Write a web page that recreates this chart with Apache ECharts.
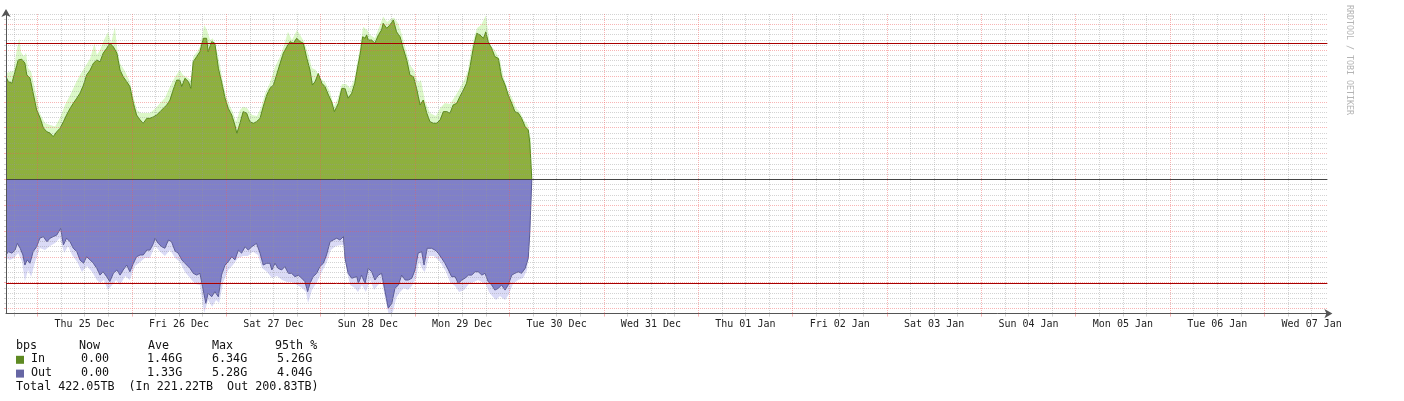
<!DOCTYPE html>
<html>
<head>
<meta charset="utf-8">
<title>port bits</title>
<script src="https://cdn.jsdelivr.net/npm/echarts@6/dist/echarts.min.js"></script>
<style>
  html, body { margin: 0; padding: 0; background: #fff; }
  #chart { width: 1404px; height: 401px; }
</style>
</head>
<body>
<div id="chart"></div>
<script>
// [hours since Wed 24 Dec 16:00, Gbit/s]
const inAvg = [
  [0, 3.97], [0.6, 3.78], [1.5, 3.72], [2.3, 4.17], [3.1, 4.62], [4.0, 4.65], [4.8, 4.50], [5.3, 4.04],
  [6.1, 3.92], [6.9, 3.34], [7.8, 2.68], [8.7, 2.37], [9.5, 1.99], [10.4, 1.84], [11.2, 1.79], [12.0, 1.65],
  [12.9, 1.84], [13.7, 1.97], [14.6, 2.23], [15.4, 2.49], [16.3, 2.75], [17.1, 2.94], [18.0, 3.14], [18.8, 3.33],
  [19.7, 3.65], [20.5, 4.04], [21.4, 4.23], [22.2, 4.49], [23.1, 4.62], [23.9, 4.55], [24.7, 4.88], [25.6, 5.07],
  [26.4, 5.27], [27.3, 5.13], [28.2, 4.88], [29.0, 4.23], [29.8, 3.97], [30.7, 3.78], [31.5, 3.59], [32.4, 2.94],
  [33.2, 2.49], [34.1, 2.30], [34.9, 2.17], [35.8, 2.36], [36.6, 2.36], [37.5, 2.42], [38.3, 2.49], [39.2, 2.62],
  [40.0, 2.75], [40.9, 2.88], [41.7, 3.07], [42.5, 3.46], [43.4, 3.84], [44.2, 3.84], [44.7, 3.59], [45.5, 3.91],
  [46.4, 3.78], [47.0, 3.52], [47.6, 4.55], [48.5, 4.75], [49.3, 4.94], [50.2, 5.46], [51.0, 5.46], [51.4, 4.94],
  [52.3, 5.33], [53.1, 5.27], [54.0, 4.30], [54.8, 3.78], [55.7, 3.14], [56.5, 2.75], [57.4, 2.49], [58.2, 2.10],
  [58.7, 1.78], [59.5, 2.17], [60.3, 2.62], [61.2, 2.56], [62.0, 2.23], [62.9, 2.17], [63.7, 2.23], [64.6, 2.36],
  [65.4, 2.81], [66.3, 3.26], [67.1, 3.52], [68.0, 3.65], [68.8, 4.04], [69.7, 4.49], [70.5, 4.88], [71.4, 5.13],
  [72.2, 5.33], [73.1, 5.27], [73.9, 5.46], [74.8, 5.33], [75.6, 5.27], [76.5, 4.68], [77.3, 4.23], [77.9, 3.65],
  [78.6, 3.78], [79.4, 4.10], [80.3, 3.72], [81.1, 3.59], [82.0, 3.26], [82.8, 3.00], [83.5, 2.62], [84.5, 2.94],
  [85.4, 3.52], [86.2, 3.52], [87.0, 3.14], [87.9, 3.33], [88.7, 3.72], [89.2, 4.17], [90.0, 4.81], [90.7, 5.52],
  [91.3, 5.46], [91.7, 5.59], [92.1, 5.39], [93.0, 5.39], [93.8, 5.27], [94.7, 5.59], [95.5, 5.78], [95.9, 6.04],
  [96.8, 5.85], [97.6, 5.97], [98.5, 6.17], [99.3, 5.71], [100.2, 5.52], [101.0, 5.07], [101.9, 4.62], [102.7, 4.04],
  [103.6, 3.97], [104.4, 3.52], [105.3, 2.88], [106.1, 3.07], [107.0, 2.56], [107.8, 2.23], [108.7, 2.17], [109.5, 2.17],
  [110.4, 2.30], [111.2, 2.62], [112.1, 2.62], [112.9, 2.56], [113.7, 2.88], [114.6, 2.94], [115.4, 3.20], [116.3, 3.46],
  [117.1, 3.72], [118.0, 4.36], [118.8, 5.07], [119.7, 5.65], [120.5, 5.59], [121.4, 5.46], [122.0, 5.71], [122.6, 5.33],
  [123.5, 5.07], [124.3, 4.75], [125.2, 4.68], [126.0, 3.97], [126.9, 3.65], [127.7, 3.26], [128.6, 2.94], [129.4, 2.62],
  [130.3, 2.56], [131.1, 2.36], [132.0, 2.04], [132.8, 1.91], [133.2, 1.40], [133.7, 0]
];
const inMax = [
  [0, 4.12], [1.9, 4.19], [2.8, 5.07], [3.4, 5.46], [3.8, 4.93], [4.6, 4.75], [5.1, 4.90], [5.6, 4.31],
  [6.4, 4.17], [7.4, 3.46], [8.6, 2.57], [9.9, 2.18], [11.2, 2.10], [12.5, 2.04], [13.7, 2.37], [15.0, 2.88],
  [16.3, 3.26], [17.5, 3.65], [18.8, 4.04], [20.1, 4.36], [21.4, 4.68], [22.5, 5.27], [23.1, 4.81], [23.9, 5.01],
  [24.9, 5.39], [26.0, 5.71], [26.7, 5.27], [27.7, 5.91], [28.2, 5.13], [29.0, 4.49], [30.3, 4.17], [31.5, 3.78],
  [32.3, 3.26], [33.3, 2.68], [34.3, 2.57], [35.6, 2.57], [36.6, 2.57], [38.1, 2.76], [39.2, 2.95], [40.4, 3.15],
  [41.7, 3.59], [43.0, 3.97], [44.2, 4.23], [45.0, 4.04], [46.3, 3.92], [47.0, 3.84], [47.6, 4.75], [48.6, 4.94],
  [49.3, 5.13], [50.4, 5.97], [51.1, 5.78], [51.9, 5.39], [52.6, 5.46], [53.7, 4.94], [54.4, 4.43], [55.2, 3.73],
  [55.9, 3.26], [57.0, 2.81], [57.7, 2.61], [58.5, 2.23], [59.5, 2.68], [60.3, 2.81], [61.3, 2.76], [62.6, 2.49],
  [63.8, 2.45], [64.8, 2.76], [65.9, 3.34], [67.1, 3.73], [68.4, 4.36], [69.7, 4.75], [70.7, 5.20], [71.7, 5.71],
  [72.7, 5.39], [74.0, 5.78], [74.8, 5.59], [75.8, 5.33], [76.8, 4.88], [77.8, 4.31], [78.8, 4.23], [79.8, 3.92],
  [81.1, 3.77], [82.4, 3.38], [83.4, 2.84], [84.4, 3.15], [85.4, 3.69], [86.5, 3.69], [87.5, 3.53], [88.7, 3.92],
  [89.2, 4.43], [90.0, 5.07], [90.8, 5.91], [91.8, 5.78], [92.6, 5.59], [93.8, 5.47], [95.1, 5.97], [95.9, 6.30],
  [96.9, 6.09], [98.1, 6.24], [98.7, 6.25], [99.7, 6.04], [100.7, 5.59], [101.7, 5.01], [102.7, 4.43], [103.7, 4.23],
  [104.8, 3.73], [105.5, 3.84], [106.5, 3.07], [107.8, 2.57], [109.3, 2.45], [110.4, 2.76], [111.6, 2.95], [112.9, 2.92],
  [114.2, 3.22], [115.4, 3.53], [116.5, 3.84], [117.5, 4.23], [118.2, 4.93], [119.0, 5.47], [119.8, 5.86], [120.8, 5.97],
  [122.0, 6.34], [123.1, 5.20], [124.3, 5.01], [125.6, 4.62], [126.6, 3.92], [127.6, 3.46], [128.7, 3.15], [129.7, 2.76],
  [130.7, 2.61], [131.7, 2.30], [132.7, 2.10], [133.5, 1.53], [133.7, 0]
];
// out traffic, positive Gbit/s (drawn below zero)
const outAvg = [
  [0, 2.93], [0.6, 2.80], [1.5, 2.86], [2.3, 2.74], [2.9, 2.48], [3.6, 2.67], [4.3, 2.93], [4.8, 3.32],
  [5.4, 3.12], [6.1, 3.25], [6.9, 2.80], [7.8, 2.61], [8.6, 2.28], [9.5, 2.22], [10.4, 2.42], [11.2, 2.28],
  [12.0, 2.22], [12.9, 2.16], [13.9, 1.90], [14.6, 2.54], [15.4, 2.28], [16.3, 2.42], [17.1, 2.67], [18.0, 2.80],
  [18.8, 3.12], [19.7, 3.25], [20.5, 3.00], [21.4, 3.12], [22.2, 3.25], [23.1, 3.45], [23.9, 3.71], [24.7, 3.58],
  [25.6, 3.77], [26.4, 3.96], [27.3, 3.64], [28.2, 3.51], [29.0, 3.71], [29.8, 3.51], [30.7, 3.32], [31.5, 3.58],
  [32.4, 3.25], [33.2, 3.00], [34.1, 2.93], [34.9, 2.93], [35.8, 2.74], [36.6, 2.74], [37.5, 2.48], [37.9, 2.28],
  [38.7, 2.48], [39.6, 2.61], [40.4, 2.67], [41.3, 2.35], [42.1, 2.42], [43.0, 2.78], [43.8, 2.86], [44.7, 3.12],
  [45.5, 3.25], [46.8, 3.45], [47.6, 3.64], [48.5, 3.71], [49.3, 3.64], [49.9, 4.09], [50.8, 4.80], [51.4, 4.41],
  [52.3, 4.55], [53.1, 4.35], [54.0, 4.55], [54.8, 3.71], [55.7, 3.32], [56.5, 3.19], [57.4, 3.00], [58.2, 3.12],
  [59.1, 2.74], [59.9, 2.86], [60.8, 2.61], [61.6, 2.74], [62.5, 2.61], [63.7, 2.48], [64.6, 2.86], [65.4, 3.32],
  [66.3, 3.25], [67.1, 3.25], [67.6, 3.51], [68.4, 3.25], [69.2, 3.45], [70.1, 3.51], [70.9, 3.38], [71.8, 3.64],
  [72.6, 3.64], [73.5, 3.77], [74.3, 3.71], [75.2, 3.83], [76.0, 3.96], [76.7, 4.35], [77.3, 4.03], [78.1, 3.77],
  [79.0, 3.64], [79.8, 3.38], [80.7, 3.25], [81.5, 2.93], [82.4, 2.42], [83.2, 2.35], [84.1, 2.28], [84.9, 2.35],
  [85.8, 2.22], [86.2, 3.06], [87.0, 3.64], [87.9, 3.83], [89.2, 3.77], [89.6, 4.03], [90.4, 3.71], [91.3, 4.03],
  [92.1, 3.45], [93.0, 3.58], [93.8, 3.90], [94.7, 3.71], [95.5, 3.64], [96.4, 4.35], [97.2, 4.99], [98.1, 4.80],
  [98.9, 4.22], [99.8, 4.09], [100.6, 3.71], [101.5, 3.90], [102.3, 3.90], [103.2, 3.83], [104.0, 3.51], [104.8, 2.86],
  [105.7, 2.80], [106.3, 3.32], [107.1, 2.67], [108.2, 2.67], [109.1, 2.74], [109.9, 2.86], [110.8, 3.06], [111.6, 3.25],
  [112.5, 3.51], [113.3, 3.77], [114.2, 3.77], [115.0, 4.03], [115.9, 3.90], [116.7, 3.83], [117.6, 3.71], [118.4, 3.71],
  [119.3, 3.58], [120.1, 3.58], [121.0, 3.71], [121.8, 3.64], [122.6, 3.96], [123.5, 4.09], [124.3, 4.29], [125.2, 4.22],
  [126.0, 4.09], [126.9, 4.29], [127.7, 4.09], [128.6, 3.71], [129.4, 3.64], [130.3, 3.58], [131.1, 3.64], [132.0, 3.45],
  [132.8, 3.06], [133.2, 2.03], [133.7, 0]
];
const outMax = [
  [0, 3.05], [1.0, 3.12], [2.0, 3.05], [3.1, 2.85], [4.1, 3.20], [4.8, 3.96], [5.6, 3.51], [6.4, 3.77],
  [7.4, 3.20], [8.6, 2.66], [9.9, 2.74], [11.2, 2.58], [12.5, 2.47], [13.7, 2.27], [14.8, 2.85], [15.8, 2.58],
  [16.8, 2.93], [18.1, 3.20], [19.3, 3.59], [20.6, 3.36], [21.9, 3.59], [23.1, 3.90], [23.9, 4.01], [24.9, 3.90],
  [25.9, 4.29], [27.0, 4.09], [28.0, 3.90], [29.0, 4.09], [30.3, 3.74], [31.5, 3.90], [32.8, 3.36], [34.1, 3.20],
  [35.3, 3.05], [36.6, 3.05], [37.9, 2.58], [39.2, 2.81], [40.4, 2.97], [41.7, 2.74], [43.0, 3.05], [44.2, 3.20],
  [45.5, 3.59], [46.8, 3.82], [48.1, 4.05], [49.3, 4.09], [50.4, 5.18], [51.4, 4.67], [52.4, 4.93], [53.4, 4.67],
  [54.2, 4.79], [55.2, 4.01], [56.5, 3.51], [57.7, 3.32], [59.0, 3.05], [60.3, 2.97], [61.5, 2.97], [62.8, 2.81],
  [64.1, 2.93], [65.1, 3.43], [66.4, 3.59], [67.6, 3.82], [68.9, 3.74], [70.2, 3.90], [71.5, 3.98], [72.7, 3.98],
  [74.0, 4.09], [75.3, 4.21], [76.3, 4.36], [76.8, 4.79], [77.8, 4.29], [79.1, 3.98], [80.3, 3.59], [81.6, 3.20],
  [82.6, 2.74], [83.9, 2.58], [85.2, 2.54], [85.9, 2.54], [86.5, 3.43], [87.5, 4.09], [88.7, 4.21], [89.5, 4.36],
  [90.5, 4.09], [91.5, 4.36], [92.6, 3.90], [93.6, 4.29], [94.6, 4.09], [95.6, 3.98], [96.6, 4.75], [97.4, 5.28],
  [98.4, 5.14], [99.2, 4.60], [100.2, 4.36], [101.2, 4.21], [102.2, 4.29], [103.2, 4.13], [104.3, 3.82], [105.0, 3.20],
  [106.0, 3.51], [106.5, 3.59], [107.6, 2.97], [108.8, 2.97], [110.4, 3.20], [111.9, 3.59], [112.9, 3.98], [114.2, 4.13],
  [115.2, 4.36], [116.5, 4.29], [117.7, 4.05], [119.0, 3.98], [120.0, 3.90], [121.0, 3.98], [122.0, 4.05], [122.8, 4.36],
  [123.6, 4.52], [124.6, 4.67], [125.6, 4.52], [126.9, 4.67], [127.9, 4.44], [128.9, 4.05], [130.2, 3.90], [131.5, 3.82],
  [132.5, 3.51], [133.2, 2.35], [133.7, 0]
];

// time axis: 14 days from Wed 24 Dec 16:00, 2 hour slots
const spanHours = 336;
const slotHours = 2;
const dayLabels = ['Thu 25 Dec', 'Fri 26 Dec', 'Sat 27 Dec', 'Sun 28 Dec', 'Mon 29 Dec', 'Tue 30 Dec', 'Wed 31 Dec',
  'Thu 01 Jan', 'Fri 02 Jan', 'Sat 03 Jan', 'Sun 04 Jan', 'Mon 05 Jan', 'Tue 06 Jan', 'Wed 07 Jan'];
// value axis, Gbit/s
const yMin = -5.2;
const yMax = 6.4;
const yStep = 0.2;

// legend stats
const statNames = ['In', 'Out'];
const statNow = [0, 0];
const statAve = [1.46, 1.33];
const statMax = [6.34, 5.28];
const stat95 = [5.26, 4.04];
const totalTB = 422.05;
const inTB = 221.22;
const outTB = 200.83;

const xSlots = [];
for (let i = 0; i <= spanHours / slotHours; i++) xSlots.push(i);
const ySlots = [];
for (let i = 0; i <= Math.round((yMax - yMin) / yStep); i++) ySlots.push(i);

// slot 1 = 18:00, slot 4 = 00:00, slot 10 = 12:00
const isDay = i => (i - 4) % 12 === 0;
const isQuarter = i => (i - 1) % 3 === 0 && !isDay(i);
const isNoon = i => (i - 10) % 12 === 0;
const isUnit = i => (i - 1) % 5 === 0;
const isSub = i => i > 0 && !isUnit(i);

const mono = '"DejaVu Sans Mono", monospace';
const gridGrey = 'rgba(150,150,150,0.42)';
const gridRed = 'rgba(240,90,90,0.45)';
const c = {
  inFill: '#8eb03e', inLine: '#5a8a1e', inHalo: '#dcf8c8', inKey: '#5e8a22',
  outFill: '#8080c8', outLine: '#5c5c98', outHalo: '#dadaf6', outKey: '#6666a4'
};

function gridAxis(dir, slots, show, color, withLine, extra) {
  const ax = {
    type: 'category',
    data: slots,
    boundaryGap: false,
    position: dir === 'x' ? 'bottom' : 'left',
    z: 5,
    axisLine: withLine ? {
      show: true,
      symbol: ['none', 'arrow'],
      symbolSize: [7, 8],
      symbolOffset: [0, 5],
      lineStyle: { color: '#555', width: 1 }
    } : { show: false },
    axisTick: { show: true, interval: show, length: dir === 'x' ? 3 : 2, lineStyle: { color: color } },
    axisLabel: { show: false },
    splitLine: { show: true, interval: show, lineStyle: { color: color, width: 1, type: [1, 1] } }
  };
  return Object.assign(ax, extra || {});
}

const chart = echarts.init(document.getElementById('chart'), null, { renderer: 'canvas' });

const legendFont = '11.7px ' + mono;
const legendText = [];
const head = [['bps', 16], ['Now', 79], ['Ave', 148], ['Max', 212], ['95th %', 275]];
head.forEach(h => legendText.push({ type: 'text', x: h[1], y: 345.5, style: { text: h[0], font: legendFont, fill: '#111', verticalAlign: 'middle' } }));
statNames.forEach((name, r) => {
  const y = 359.3 + r * 13.8;
  legendText.push({ type: 'rect', shape: { x: 16, y: y - 3.5, width: 8, height: 8 }, style: { fill: r === 0 ? c.inKey : c.outKey } });
  const cells = [[name, 31], [statNow[r].toFixed(2), 81], [statAve[r].toFixed(2) + 'G', 147],
    [statMax[r].toFixed(2) + 'G', 212], [stat95[r].toFixed(2) + 'G', 277]];
  cells.forEach(cell => legendText.push({ type: 'text', x: cell[1], y: y, style: { text: cell[0], font: legendFont, fill: '#111', verticalAlign: 'middle' } }));
});
legendText.push({
  type: 'text', x: 16, y: 387,
  style: { text: 'Total ' + totalTB.toFixed(2) + 'TB  (In ' + inTB.toFixed(2) + 'TB  Out ' + outTB.toFixed(2) + 'TB)', font: legendFont, fill: '#111', verticalAlign: 'middle' }
});
legendText.push({
  type: 'text', x: 1349, y: 60, rotation: -Math.PI / 2,
  style: { text: 'RRDTOOL / TOBI OETIKER', font: '8.3px ' + mono, fill: '#b4b4b4', align: 'center', verticalAlign: 'middle' }
});

const option = {
  animation: false,
  backgroundColor: '#fff',
  grid: { left: 6, right: 76.6, top: 14, bottom: 87.4, containLabel: false, outerBoundsMode: 'none' },
  xAxis: [
    { type: 'value', min: 0, max: spanHours, show: false },
    gridAxis('x', xSlots, isQuarter, gridGrey, true),
    gridAxis('x', xSlots, isDay, gridRed, false, {
      axisLabel: {
        show: true,
        interval: isNoon,
        margin: 6,
        fontFamily: mono,
        fontSize: 10,
        color: '#222',
        formatter: (v, i) => isNoon(i) ? (dayLabels[(i - 10) / 12] || '') : ''
      }
    })
  ],
  yAxis: [
    { type: 'value', min: yMin, max: yMax, show: false },
    gridAxis('y', ySlots, isSub, gridGrey, true),
    gridAxis('y', ySlots, isUnit, gridRed, false)
  ],
  graphic: legendText,
  series: [
    {
      type: 'line', data: inMax, symbol: 'none', silent: true,
      lineStyle: { width: 0 }, areaStyle: { color: c.inHalo, opacity: 1 }, z: 1
    },
    {
      type: 'line', data: outMax.map(p => [p[0], -p[1]]), symbol: 'none', silent: true,
      lineStyle: { width: 0 }, areaStyle: { color: c.outHalo, opacity: 1 }, z: 1
    },
    {
      type: 'line', data: inAvg, symbol: 'none', silent: true,
      lineStyle: { width: 1, color: c.inLine }, areaStyle: { color: c.inFill, opacity: 1 }, z: 2
    },
    {
      type: 'line', data: outAvg.map(p => [p[0], -p[1]]), symbol: 'none', silent: true,
      lineStyle: { width: 1, color: c.outLine }, areaStyle: { color: c.outFill, opacity: 1 }, z: 2,
      markLine: {
        silent: true,
        symbol: 'none',
        label: { show: false },
        z: 10,
        data: [
          { yAxis: 0, lineStyle: { color: '#454545', width: 1, type: 'solid' } },
          { yAxis: stat95[0], lineStyle: { color: '#a80000', width: 1, type: 'solid' } },
          { yAxis: -stat95[1], lineStyle: { color: '#a80000', width: 1, type: 'solid' } }
        ]
      }
    }
  ]
};

chart.setOption(option);
</script>
</body>
</html>
